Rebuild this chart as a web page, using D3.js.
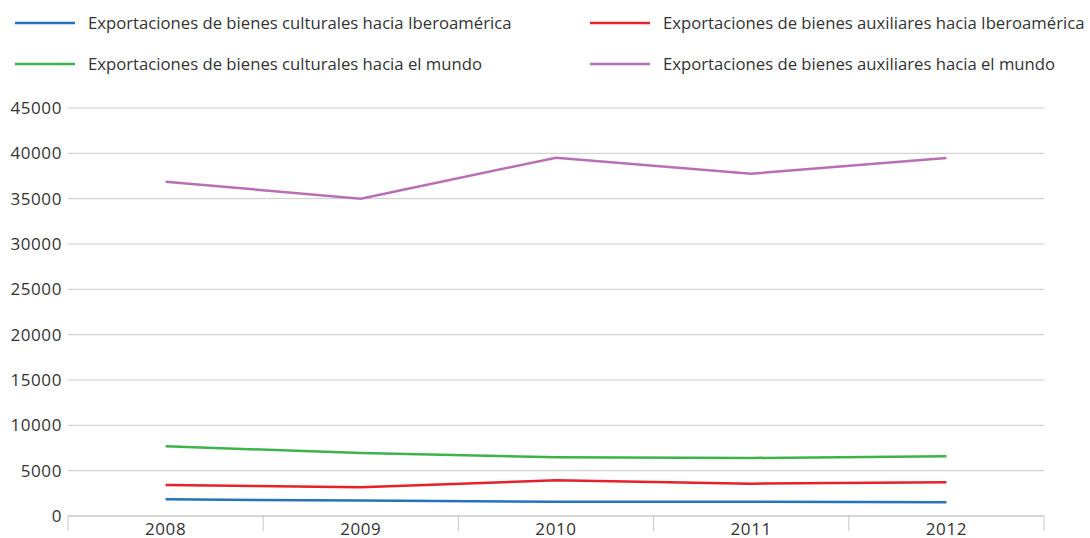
<!DOCTYPE html>
<html>
<head>
<meta charset="utf-8">
<script src="https://cdn.jsdelivr.net/npm/d3@7"></script>
<style>
  body { margin: 0; background: #fff; }
  svg { font-family: "Open Sans", "Noto Sans", sans-serif; }
</style>
</head>
<body>
<div id="chart"></div>
<script>
// --- data ---
const years = ["2008", "2009", "2010", "2011", "2012"];
const culturalesIbero = [1840, 1700, 1580, 1580, 1510];
const auxiliaresIbero = [3420, 3160, 3930, 3570, 3710];
const culturalesMundo = [7690, 6950, 6470, 6400, 6580];
const auxiliaresMundo = [36870, 35000, 39520, 37750, 39480];
const yTicks = [0, 5000, 10000, 15000, 20000, 25000, 30000, 35000, 40000, 45000];

const series = [
  { name: "Exportaciones de bienes culturales hacia Iberoamérica", values: culturalesIbero, color: "#2473be" },
  { name: "Exportaciones de bienes auxiliares hacia Iberoamérica", values: auxiliaresIbero, color: "#e8202b" },
  { name: "Exportaciones de bienes culturales hacia el mundo", values: culturalesMundo, color: "#3cb44b" },
  { name: "Exportaciones de bienes auxiliares hacia el mundo", values: auxiliaresMundo, color: "#b86fb6" }
];

// --- layout ---
const W = 1090, H = 538;
const margin = { left: 68, right: 46, top: 108, bottom: 22 };
const innerW = W - margin.left - margin.right;
const innerH = H - margin.top - margin.bottom;

const svg = d3.select('#chart').append('svg')
  .attr('width', W).attr('height', H);

const x = d3.scaleBand().domain(years).range([0, innerW]);
const y = d3.scaleLinear().domain([0, 45000]).range([innerH, 0]);

const g = svg.append('g').attr('transform', `translate(${margin.left},${margin.top})`);

// gridlines
g.selectAll('.grid').data(yTicks.filter(d => d > 0)).join('line')
  .attr('x1', 0).attr('x2', innerW)
  .attr('y1', d => y(d)).attr('y2', d => y(d))
  .attr('stroke', '#cacaca').attr('stroke-width', 1);

// y labels
g.selectAll('.ylab').data(yTicks).join('text')
  .attr('x', -6).attr('y', d => y(d))
  .attr('dy', '0.36em')
  .attr('text-anchor', 'end')
  .attr('font-size', 17).attr('letter-spacing', 0.6).attr('fill', '#333')
  .text(d => d);

// x axis line + band ticks
g.append('line')
  .attr('x1', 0).attr('x2', innerW)
  .attr('y1', innerH).attr('y2', innerH)
  .attr('stroke', '#c8c8c8').attr('stroke-width', 1.5);

const bounds = years.map(d => x(d)).concat([innerW]);
g.selectAll('.xtick').data(bounds).join('line')
  .attr('x1', d => d).attr('x2', d => d)
  .attr('y1', innerH).attr('y2', innerH + 15)
  .attr('stroke', '#c8c8c8').attr('stroke-width', 1);

g.selectAll('.xlab').data(years).join('text')
  .attr('x', d => x(d) + x.bandwidth() / 2)
  .attr('y', innerH + 19)
  .attr('text-anchor', 'middle')
  .attr('font-size', 17).attr('letter-spacing', 0.6).attr('fill', '#333')
  .text(d => d);

// lines
const line = d3.line()
  .x((d, i) => x(years[i]) + x.bandwidth() / 2)
  .y(d => y(d));

g.selectAll('.series').data(series).join('path')
  .attr('d', d => line(d.values))
  .attr('fill', 'none')
  .attr('stroke', d => d.color)
  .attr('stroke-width', 2.5);

// legend
const legendPos = [[15, 23], [590, 23], [15, 64], [590, 64]];
const lg = svg.selectAll('.legend').data(series).join('g')
  .attr('transform', (d, i) => `translate(${legendPos[i][0]},${legendPos[i][1]})`);
lg.append('line')
  .attr('x1', 0).attr('x2', 60).attr('y1', 0).attr('y2', 0)
  .attr('stroke', d => d.color).attr('stroke-width', 2.5);
lg.append('text')
  .attr('x', 73).attr('y', 0).attr('dy', '0.35em')
  .attr('font-size', 16.7).attr('fill', '#333')
  .text(d => d.name);
</script>
</body>
</html>
